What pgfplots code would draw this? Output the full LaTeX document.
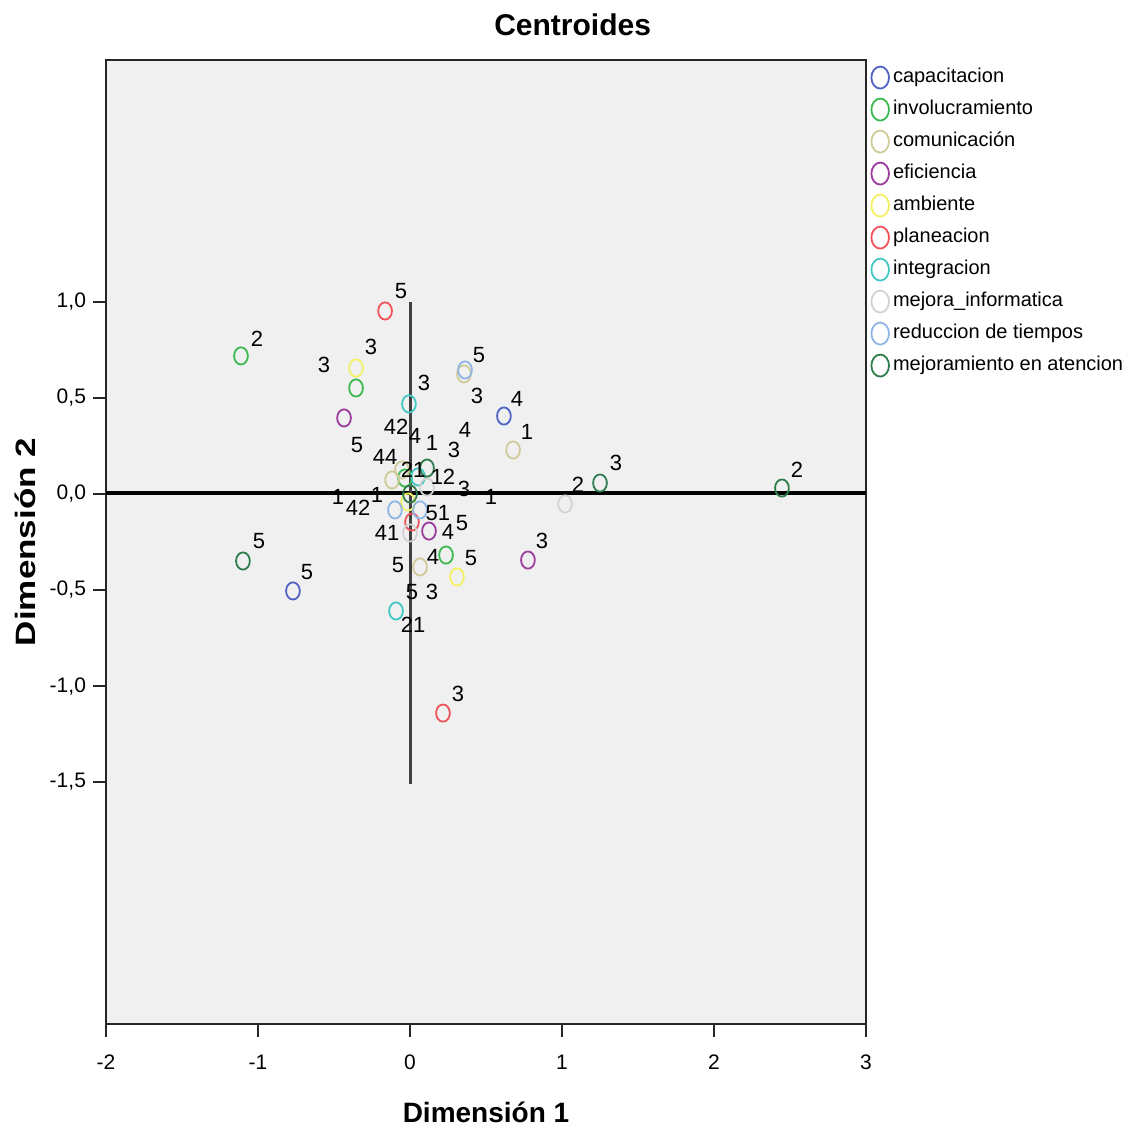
\documentclass[border=0pt]{standalone}
\usepackage{fontspec}
\setmainfont{Liberation Sans}
\usepackage{pgfplots}
\pgfplotsset{compat=1.18}
\definecolor{plotbg}{HTML}{F0F0F0}
\definecolor{cCap}{HTML}{5062C2}
\definecolor{cInv}{HTML}{3CB950}
\definecolor{cCom}{HTML}{D0CB9A}
\definecolor{cEfi}{HTML}{9B3C9E}
\definecolor{cAmb}{HTML}{F3F062}
\definecolor{cPla}{HTML}{F0545A}
\definecolor{cInt}{HTML}{45C7C4}
\definecolor{cMej}{HTML}{D2D2D2}
\definecolor{cRed}{HTML}{8FB5E5}
\definecolor{cAte}{HTML}{2F7D4C}

\begin{document}
\begin{tikzpicture}
\begin{axis}[
    scale only axis, width=380pt, height=482pt,
    xmin=-2, xmax=3, ymin=-2.76, ymax=2.26,
    axis background/.style={fill=plotbg},
    axis line style={line width=0.8pt, black!85},
    xtick={-2,-1,0,1,2,3}, xticklabels={-2,-1,0,1,2,3},
    ytick={-1.5,-1,-0.5,0,0.5,1},
    yticklabels={{-1,5},{-1,0},{-0,5},{0,0},{0,5},{1,0}},
    tick align=outside, xtick pos=bottom, ytick pos=left,
    major tick length=6.5pt,
    tick style={line width=0.8pt, black!85},
    ticklabel style={font=\fontsize{10.5}{12}\selectfont},
    xticklabel style={yshift=-5.5pt},
    every axis title shift=0pt,
    title={Centroides},
    title style={font=\fontsize{15}{18}\selectfont\bfseries,
                 at={(axis description cs:0.614,1.0363)}, anchor=center},
    xlabel={Dimensión 1},
    xlabel style={font=\fontsize{14}{16}\selectfont\bfseries,
                  at={(axis description cs:0.5,-0.0913)}, anchor=center},
    ylabel={\scalebox{1.25}[1]{Dimensión 2}},
    ylabel style={font=\fontsize{14}{16}\selectfont\bfseries,
                  at={(axis description cs:-0.1066,0.5)}, anchor=center},
    legend style={at={(1,1)}, anchor=north west, xshift=2.5pt,
                  draw=none, fill=white,
                  inner xsep=0pt, inner ysep=3.1pt, row sep=5pt,
                  font=\fontsize{10}{12}\selectfont,
                  nodes={inner xsep=2pt, inner ysep=0pt,
                         text height=7.5pt, text depth=2.5pt}},
    legend cell align=left,
    legend image code/.code={\draw[#1, mark size=5.5pt] plot coordinates {(0pt,0pt)};},
    circ/.style={only marks, mark=o, mark size=4.3pt,
                 mark options={line width=0.9pt, xscale=0.8}},
]
% reference lines
\addplot[forget plot, black, line width=1.7pt] coordinates {(-2,0.005) (3,0.005)};
\addplot[forget plot, black!75, line width=1.5pt] coordinates {(0,1) (0,-1.51)};

\addplot[circ, cCap] coordinates {(0.618,0.406) (-0.770,-0.505)};
\addlegendentry{capacitacion}
\addplot[circ, cInv] coordinates {(-1.112,0.719) (-0.355,0.552) (0.237,-0.318) (-0.033,0.083)};
\addlegendentry{involucramiento}
\addplot[circ, cCom] coordinates {(0.678,0.229) (0.355,0.625) (0.066,-0.380) (-0.118,0.073) (-0.053,0.125)};
\addlegendentry{comunicación}
\addplot[circ, cEfi] coordinates {(-0.434,0.396) (0.776,-0.344) (0.125,-0.193)};
\addlegendentry{eficiencia}
\addplot[circ, cAmb] coordinates {(-0.355,0.656) (0.309,-0.432) (-0.013,-0.042)};
\addlegendentry{ambiente}
\addplot[circ, cPla] coordinates {(-0.164,0.953) (0.217,-1.141) (0.013,-0.146)};
\addlegendentry{planeacion}
\addplot[circ, cInt] coordinates {(-0.007,0.469) (-0.092,-0.609) (0.053,0.089)};
\addlegendentry{integracion}
\addplot[circ, cMej] coordinates {(1.020,-0.052) (0.000,-0.203) (0.112,0.036)};
\addlegendentry{mejora\_informatica}
\addplot[circ, cRed] coordinates {(0.362,0.646) (-0.099,-0.083) (0.066,-0.083)};
\addlegendentry{reduccion de tiempos}
\addplot[circ, cAte] coordinates {(-1.099,-0.349) (1.250,0.057) (2.447,0.031) (0.000,0.000) (0.112,0.135)};
\addlegendentry{mejoramiento en atencion}

% category labels
\addplot[forget plot, only marks, mark=*, mark size=0pt,
         mark options={draw=none, fill=none},
         point meta=explicit symbolic, nodes near coords,
         nodes near coords style={anchor=center, inner sep=0pt,
                                  font=\fontsize{11}{12}\selectfont}]
  table[meta=l] {
x       y       l
-0.059  1.057   5
-1.007  0.807   2
-0.566  0.672   3
-0.257  0.766   3
0.454   0.724   5
0.092   0.578   3
0.441   0.510   3
0.704   0.495   4
0.770   0.323   1
-0.092  0.349   42
0.033   0.302   4
0.145   0.266   1
0.289   0.229   3
0.362   0.333   4
-0.349  0.255   5
-0.164  0.193   44
0.020   0.125   21
0.217   0.089   12
0.355   0.026   3
-0.474  -0.016  1
-0.342  -0.073  42
-0.217  -0.005  1
0.533   -0.016  1
1.105   0.047   2
1.355   0.161   3
2.546   0.125   2
0.184   -0.099  51
0.342   -0.151  5
0.250   -0.198  4
-0.151  -0.203  41
-0.079  -0.370  5
0.151   -0.328  4
0.401   -0.333  5
0.868   -0.245  3
-0.993  -0.245  5
-0.678  -0.406  5
0.013   -0.510  5
0.145   -0.510  3
0.020   -0.682  21
0.316   -1.042  3
};
\end{axis}
\path ([xshift=-53pt,yshift=-54.5pt]current axis.south west)
  rectangle ([xshift=132.5pt,yshift=30pt]current axis.north east);
\end{tikzpicture}
\end{document}
